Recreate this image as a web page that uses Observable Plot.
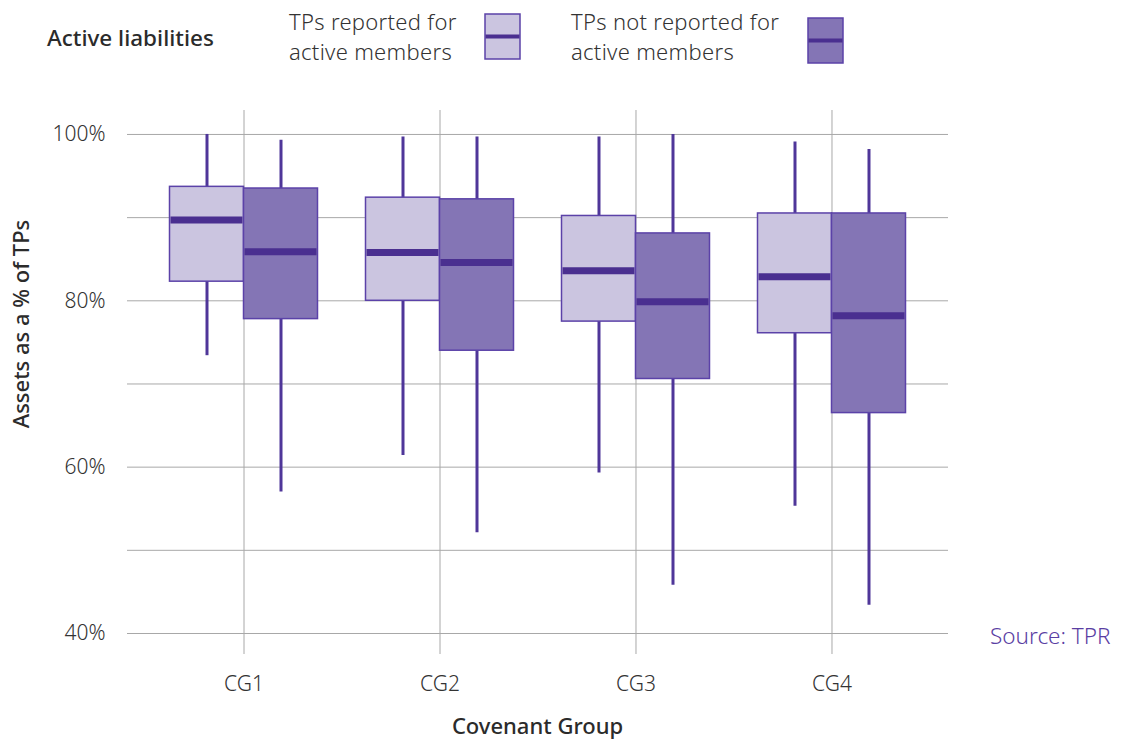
<!DOCTYPE html>
<html>
<head>
<meta charset="utf-8">
<script src="https://cdn.jsdelivr.net/npm/d3@7"></script>
<script src="https://cdn.jsdelivr.net/npm/@observablehq/plot@0.6"></script>
<style>
  html, body { margin: 0; padding: 0; background: #fff; }
  body { font-family: "Noto Sans", Lato, sans-serif; color: #2b2b2b; }
  #wrap { position: relative; width: 1121px; height: 742px; overflow: hidden; }
  #legend { position: relative; width: 1121px; height: 90px; }
  .abs { position: absolute; white-space: nowrap; }
  .ltitle { font-size: 22.5px; font-weight: 500; color: #2b2b2b; line-height: 31px; }
  .litem { font-size: 22px; font-weight: 300; line-height: 30px; letter-spacing: 0.3px; color: #333; }
  .axt { font-size: 22px; font-weight: 500; color: #2b2b2b; line-height: 31px; }
  .src { font-size: 22.5px; font-weight: 300; color: #5a3ea3; line-height: 31px; }
  #chart g[aria-label="y-axis tick label"] text,
  #chart g[aria-label="x-axis tick label"] text { font-size: 21px; font-weight: 300; }
</style>
</head>
<body>
<div id="wrap">
  <div id="legend"></div>
  <div id="chart"></div>
</div>
<script>
// ---- data ----
const groups = ["CG1", "CG2", "CG3", "CG4"];
const seriesNames = ["TPs reported for active members", "TPs not reported for active members"];
// TPs reported for active members
const repMin = [73.4, 61.4, 59.3, 55.3];
const repQ1  = [82.3, 80.0, 77.5, 76.1];
const repMed = [89.7, 85.8, 83.6, 82.9];
const repQ3  = [93.7, 92.4, 90.2, 90.5];
const repMax = [100.0, 99.7, 99.7, 99.1];
// TPs not reported for active members
const notMin = [57.0, 52.1, 45.8, 43.4];
const notQ1  = [77.8, 74.0, 70.6, 66.5];
const notMed = [85.9, 84.6, 79.9, 78.2];
const notQ3  = [93.5, 92.2, 88.1, 90.5];
const notMax = [99.3, 99.7, 100.0, 98.2];
const gridTicks = [40, 50, 60, 70, 80, 90, 100];
const labelTicks = [40, 60, 80, 100];
const titleText = "Active liabilities";
const xTitle = "Covenant Group";
const yTitle = "Assets as a % of TPs";
const sourceText = "Source: TPR";

// ---- styles ----
const lightFill = "#cbc5e0";
const darkFill = "#8475b5";
const boxStroke = "#5b42a8";
const medianColor = "#4a2f90";
const whiskerColor = "#4f3699";
const gridColor = "#a8a8a8";

const rows = [];
groups.forEach((g, i) => {
  rows.push({group: g, series: seriesNames[0], min: repMin[i], q1: repQ1[i], med: repMed[i], q3: repQ3[i], max: repMax[i]});
  rows.push({group: g, series: seriesNames[1], min: notMin[i], q1: notQ1[i], med: notMed[i], q3: notQ3[i], max: notMax[i]});
});
const rep = rows.filter(d => d.series === seriesNames[0]);
const nrep = rows.filter(d => d.series === seriesNames[1]);

const half = 98, boxW = 74;
const font = "'Noto Sans', Lato, sans-serif";

function boxMarks(data, fill, side) {
  const inL = side < 0 ? half - boxW : half;
  const inR = side < 0 ? half : half - boxW;
  return [
    Plot.ruleX(data, {x: "group", y1: "min", y2: "max", stroke: whiskerColor, strokeWidth: 3, dx: side * boxW / 2}),
    Plot.rectY(data, {x: "group", y1: "q1", y2: "q3", fill, stroke: boxStroke, strokeWidth: 1.5, insetLeft: inL, insetRight: inR}),
    Plot.tickY(data, {x: "group", y: "med", stroke: medianColor, strokeWidth: 7, insetLeft: inL + 1, insetRight: inR + 1})
  ];
}

const chart = Plot.plot({
  width: 1121,
  height: 652,
  marginTop: 20,
  marginBottom: 109,
  marginLeft: 127,
  marginRight: 173,
  style: {fontFamily: font, color: "#333", background: "transparent"},
  x: {domain: groups, paddingInner: 0, paddingOuter: 0.0944, round: false, label: null},
  y: {domain: [40, 102.88], label: null},
  marks: [
    Plot.gridY({ticks: gridTicks, stroke: gridColor, strokeOpacity: 1, strokeWidth: 1}),
    Plot.gridX({stroke: gridColor, strokeOpacity: 1, strokeWidth: 1}),
    Plot.axisX({tickSize: 21, tickPadding: 22, stroke: gridColor, strokeOpacity: 1, fontSize: 21, fontWeight: 300, label: null}),
    Plot.axisY({ticks: labelTicks, tickSize: 0, tickPadding: 22, tickFormat: d => d + "%", fontSize: 21, fontWeight: 300, label: null}),
    ...boxMarks(rep, lightFill, -1),
    ...boxMarks(nrep, darkFill, 1)
  ]
});
document.getElementById("chart").appendChild(chart);

// ---- legend & titles ----
const legend = document.getElementById("legend");
function addDiv(parent, cls, html, left, top) {
  const d = document.createElement("div");
  d.className = "abs " + cls;
  d.innerHTML = html;
  d.style.left = left + "px";
  d.style.top = top + "px";
  parent.appendChild(d);
  return d;
}
addDiv(legend, "ltitle", titleText, 47, 22);
function splitName(s) {
  const w = s.split(" ");
  return w.slice(0, w.length - 2).join(" ") + "<br>" + w.slice(-2).join(" ");
}
addDiv(legend, "litem", splitName(seriesNames[0]), 289, 6);
addDiv(legend, "litem", splitName(seriesNames[1]), 571, 6);
function swatch(left, top, fill) {
  const ns = "http://www.w3.org/2000/svg";
  const s = document.createElementNS(ns, "svg");
  s.setAttribute("width", 38); s.setAttribute("height", 48);
  s.style.position = "absolute"; s.style.left = left + "px"; s.style.top = top + "px";
  s.innerHTML = `<rect x="1" y="1" width="35" height="45" fill="${fill}" stroke="${boxStroke}" stroke-width="1.5"/>
    <line x1="1.5" x2="35.5" y1="23.5" y2="23.5" stroke="${medianColor}" stroke-width="4"/>`;
  legend.appendChild(s);
}
swatch(484, 13, lightFill);
swatch(807, 17, darkFill);

const wrap = document.getElementById("wrap");
addDiv(wrap, "axt", xTitle, 0, 710).style.cssText += "left:0;width:1075px;text-align:center;";
const yt = addDiv(wrap, "axt", yTitle, 0, 0);
yt.style.left = "20px"; yt.style.top = "324px";
yt.style.transform = "translate(-50%, -50%) rotate(-90deg)";
addDiv(wrap, "src", sourceText, 990, 620);
</script>
</body>
</html>
